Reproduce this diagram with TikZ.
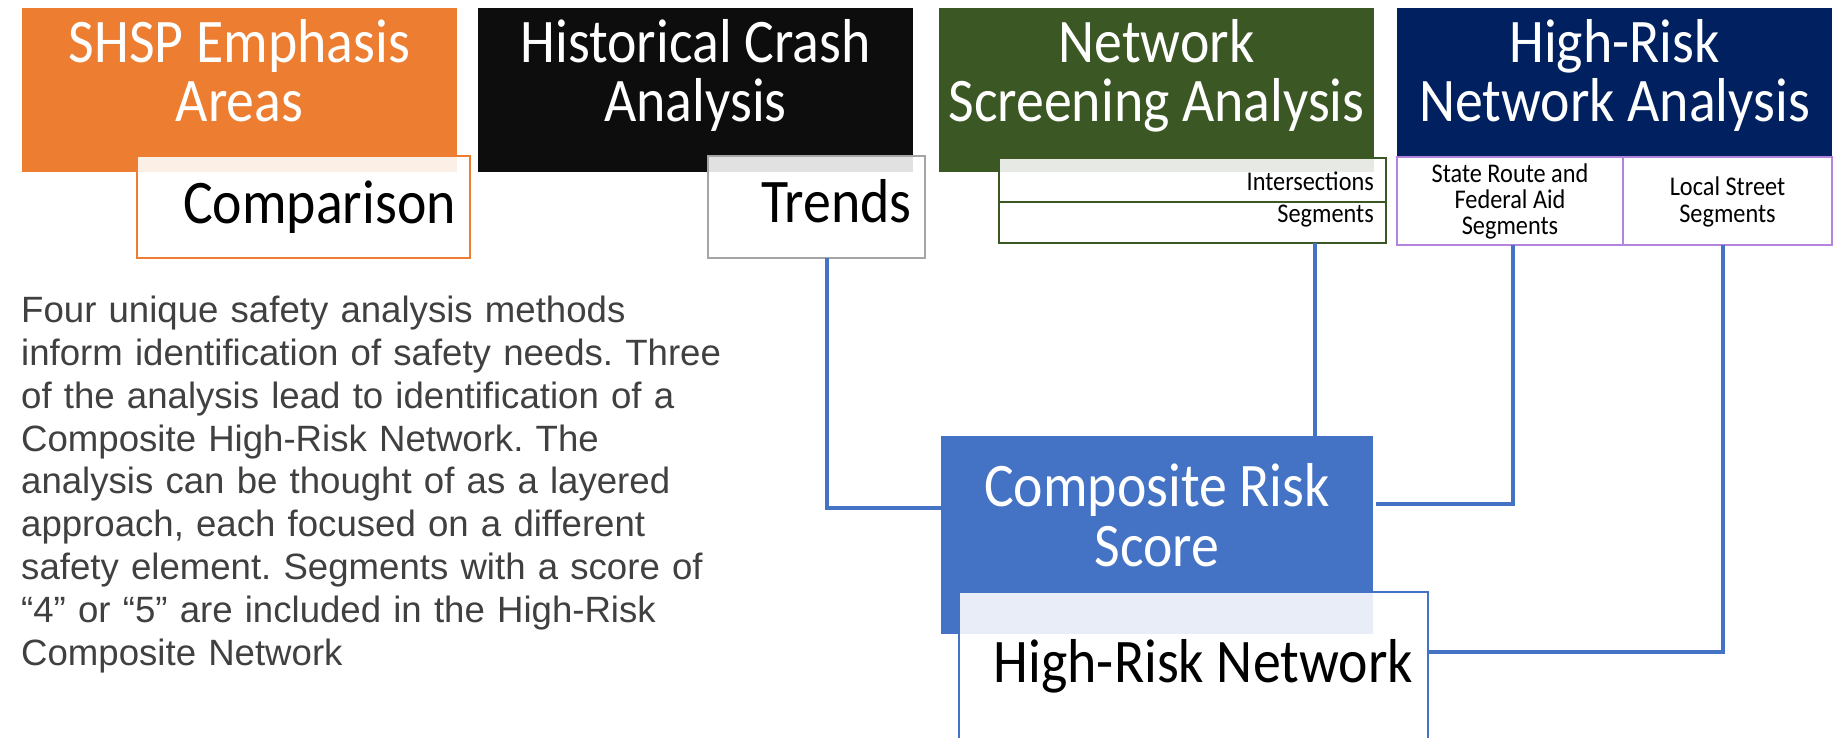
\documentclass[tikz,border=0pt]{standalone}
\usepackage{fontspec}
\newfontfamily\hfont[FakeStretch=0.9]{Carlito}
\newfontfamily\pfont{Liberation Sans}
\definecolor{cOrange}{HTML}{ED7D31}
\definecolor{cBlack}{HTML}{0D0D0D}
\definecolor{cGreen}{HTML}{3A5724}
\definecolor{cNavy}{HTML}{002060}
\definecolor{cBlue}{HTML}{4472C4}
\definecolor{cGray}{HTML}{A5A5A5}
\definecolor{cPurple}{HTML}{B384DE}
\definecolor{cText}{HTML}{404040}
\frenchspacing
\begin{document}
\begin{tikzpicture}[x=1pt,y=-1pt,
  hdr/.style={draw=none, anchor=north west, inner sep=0pt, outer sep=0pt},
  subbox/.style={fill=white, fill opacity=0.88, draw opacity=1, line width=2pt, anchor=north west, inner sep=0pt, outer sep=0pt},
  big/.style={font=\hfont\fontsize{62}{62}\selectfont, inner sep=0pt, anchor=base},
  small/.style={font=\hfont\fontsize{27}{27}\selectfont, inner sep=0pt, anchor=base, text=black},
  conn/.style={draw=cBlue, line width=4pt}]
\useasboundingbox (0,0) rectangle (1842,737);
% header boxes
\node[hdr, fill=cOrange, minimum width=435pt, minimum height=164pt] (shsp) at (22,8) {};
\node[hdr, fill=cBlack, minimum width=435pt, minimum height=164pt] (hist) at (478,8) {};
\node[hdr, fill=cGreen, minimum width=435pt, minimum height=164pt] (netscr) at (939,8) {};
\node[hdr, fill=cNavy, minimum width=435pt, minimum height=149pt] (hrna) at (1397,8) {};
\node[hdr, fill=cBlue, minimum width=432pt, minimum height=198pt] (crs) at (941,436) {};
% sub boxes
\node[subbox, draw=cOrange, minimum width=333pt, minimum height=102pt] (comp) at (137,156) {};
\node[subbox, draw=cGray, line width=2.5pt, minimum width=217pt, minimum height=102pt] (trends) at (708,156) {};
\node[subbox, draw=cGreen, minimum width=387pt, minimum height=44pt] (inter) at (999,158) {};
\node[subbox, draw=cGreen, minimum width=387pt, minimum height=41pt] (seg) at (999,202) {};
\node[subbox, draw=cPurple, minimum width=226pt, minimum height=88pt] (sr) at (1397,157) {};
\node[subbox, draw=cPurple, minimum width=209pt, minimum height=88pt] (ls) at (1623,157) {};
\node[subbox, draw=cBlue, line width=1.5pt, minimum width=469pt, minimum height=180pt] (hrn) at (959,592) {};
% header texts
\node[big, text=white] (t1a) at (239.5,62) {SHSP Emphasis};
\node[big, text=white] (t1b) at (239.5,121) {Areas};
\node[big, text=white] (t2a) at (695.5,62) {Historical Crash};
\node[big, text=white] (t2b) at (695.5,121) {Analysis};
\node[big, text=white] (t3a) at (1156.5,62) {Network};
\node[big, text=white] (t3b) at (1156.5,121) {Screening Analysis};
\node[big, text=white] (t4a) at (1614.5,62) {High-Risk};
\node[big, text=white] (t4b) at (1614.5,121) {Network Analysis};
\node[big, text=white] (t5a) at (1157,506) {Composite Risk};
\node[big, text=white] (t5b) at (1157,566) {Score};
% sub texts
\node[big, text=black, anchor=base east] (tc) at (456,223) {Comparison};
\node[big, text=black, anchor=base east] (tt) at (912,222) {Trends};
\node[big, text=black, anchor=base east] (th) at (1413,682) {High-Risk Network};
\node[small, anchor=base east] (ti) at (1374,190) {Intersections};
\node[small, anchor=base east] (ts) at (1374,222) {Segments};
\node[small] (tsr1) at (1510,182) {State Route and};
\node[small] (tsr2) at (1510,208) {Federal Aid};
\node[small] (tsr3) at (1510,234) {Segments};
\node[small] (tls1) at (1727.5,195) {Local Street};
\node[small] (tls2) at (1727.5,222) {Segments};
% description
\node[anchor=north west, inner sep=0pt, text width=760pt, align=left, text=cText,
      font=\pfont\fontsize{36.6}{42.8}\selectfont] (desc) at (21,296)
  {Four unique safety analysis methods\\
   inform identification of safety needs. Three\\
   of the analysis lead to identification of a\\
   Composite High-Risk Network. The\\
   analysis can be thought of as a layered\\
   approach, each focused on a different\\
   safety element. Segments with a score of\\
   “4” or “5” are included in the High-Risk\\
   Composite Network};
% connectors
\draw[conn] ([xshift=10pt]trends.south) |- (crs.west |- 0,508);
\draw[conn] ([xshift=-71pt]seg.south east) -- ([xshift=-71pt]seg.south east |- crs.north);
\draw[conn] ([xshift=3pt]sr.south) |- ([xshift=3pt]crs.east |- 0,504);
\draw[conn] ([xshift=-4.5pt]ls.south) |- (hrn.east |- 0,652);
\end{tikzpicture}
\end{document}
